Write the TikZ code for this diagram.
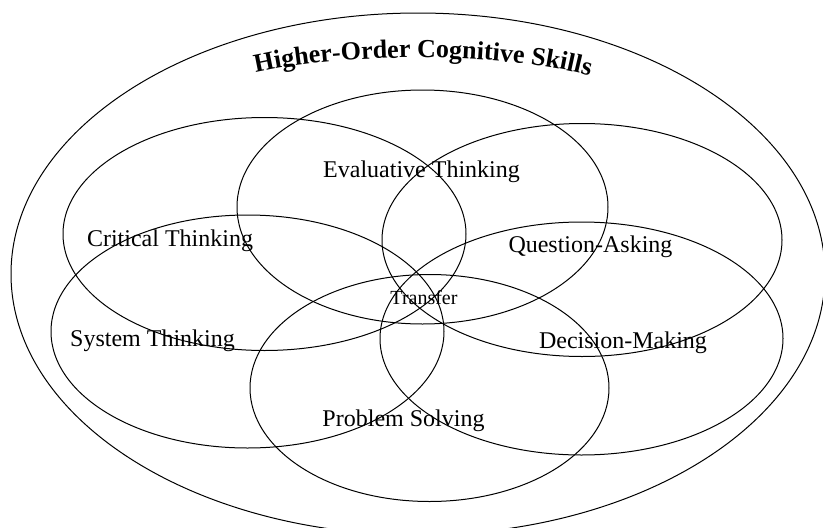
\documentclass[tikz,border=0pt]{standalone}
\usepackage{fontspec}
\setmainfont{Liberation Serif}
\usetikzlibrary{decorations.text}

\newcommand\skillfont{\fontsize{24}{28}\selectfont}
\newcommand\headfont{\fontsize{26}{30}\selectfont\bfseries}

\tikzset{
  skillset/.style={line width=1pt},
  skilllabel/.style={anchor=base, inner sep=0pt, font=\skillfont},
}

\begin{document}
\begin{tikzpicture}[x=1pt,y=-1pt]
        \clip (0,0) rectangle (823,528);

        % outer set
        \draw[skillset] (418,274) ellipse [x radius=407, y radius=261];
        \path[decorate, decoration={text along path, text align=center,
            text={|\headfont|Higher-Order Cognitive Skills}}]
            (243,76) .. controls (330,52) and (515,50) .. (602,80);

        % the six skills
        \draw[skillset] (422.5,207) ellipse [x radius=185.5, y radius=117];
        \draw[skillset] (264.5,234) ellipse [x radius=201.5, y radius=116.5];
        \draw[skillset] (582,240) ellipse [x radius=200, y radius=116.5];
        \draw[skillset] (247.5,331.5) ellipse [x radius=196.5, y radius=116.5];
        \draw[skillset] (581.5,338.5) ellipse [x radius=201.5, y radius=116.5];
        \draw[skillset] (429.5,388) ellipse [x radius=179.5, y radius=113.5];

        \node[skilllabel] (eval) at (421.5,177) {Evaluative Thinking};
        \node[skilllabel] (crit) at (170,246.5) {Critical Thinking};
        \node[skilllabel] (quest) at (590.5,252.5) {Question-Asking};
        \node[skilllabel] (sys) at (152.5,346.5) {System Thinking};
        \node[skilllabel] (dec) at (623,348) {Decision-Making};
        \node[skilllabel] (prob) at (403.5,426.5) {Problem Solving};

        \node[anchor=base, inner sep=0pt, font=\fontsize{20}{24}\selectfont] (trans) at (424,304) {Transfer};
\end{tikzpicture}
\end{document}
